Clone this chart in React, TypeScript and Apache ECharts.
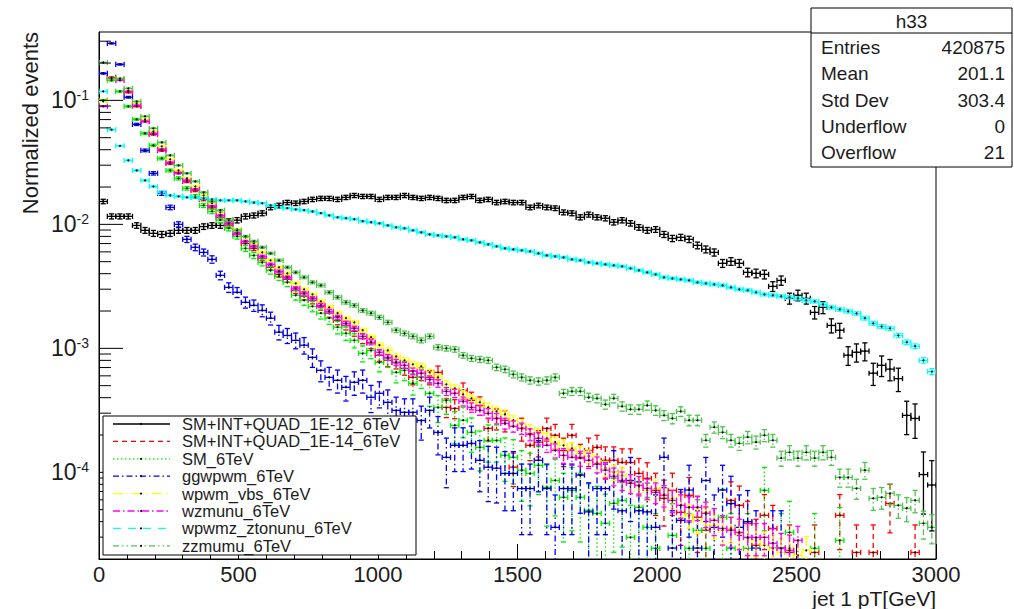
import React, { useEffect, useRef } from 'react';
import * as echarts from 'echarts';

const FONT = "'Liberation Sans', Arial, Helvetica, sans-serif";
const TEXT = '#1c1c1c';

const BIN_WIDTH = 30;
const X_MIN = 0;
const X_MAX = 3000;
const Y_MIN = 2e-5;
const Y_MAX = 0.356;
const X_TICK_INTERVAL = 500;

const SERIES_NAMES = [
  'SM+INT+QUAD_1E-12_6TeV',
  'SM+INT+QUAD_1E-14_6TeV',
  'SM_6TeV',
  'ggwpwm_6TeV',
  'wpwm_vbs_6TeV',
  'wzmunu_6TeV',
  'wpwmz_ztonunu_6TeV',
  'zzmumu_6TeV',
];
const SERIES_COLORS = ['#000000', '#ff0000', '#00ee00', '#0000ff', '#ffff00', '#ff00ff', '#00ffff', '#4fc44f'];
const SERIES_DASH: (number[] | null)[] = [
  null,
  [5, 4],
  [1.5, 2.5],
  [6, 3, 1.5, 3],
  [10, 4, 1.5, 4],
  [7, 3, 1.5, 3],
  [8, 7],
  [6, 3, 1.5, 3, 1.5, 3],
];
// weight of one event in each normalized histogram (for the Poisson error bars)
const EVENT_WEIGHT = [2.6e-5, 1e-5, 2e-5, 2.45e-5, 2e-6, 2.5e-6, 2e-6, 2.5e-6];

const STATS_TITLE = 'h33';
const STATS_LABELS = ['Entries', 'Mean', 'Std Dev', 'Underflow', 'Overflow'];
const STATS_VALUES = ['420875', '201.1', '303.4', '0', '21'];

const X_TITLE = 'jet 1 pT[GeV]';
const Y_TITLE = 'Normalized events';

const SM_INT_QUAD_1E12 = [
  1.53e-2, 1.16e-2, 1.16e-2, 1.16e-2, 9.8e-3, 8.95e-3, 8.46e-3, 8.3e-3, 8.46e-3, 8.95e-3,
  8.95e-3, 8.95e-3, 9.6e-3, 9.8e-3, 9.8e-3, 1.06e-2, 1.08e-2, 1.16e-2, 1.18e-2, 1.23e-2,
  1.37e-2, 1.42e-2, 1.5e-2, 1.48e-2, 1.53e-2, 1.59e-2, 1.62e-2, 1.62e-2, 1.59e-2, 1.65e-2,
  1.71e-2, 1.68e-2, 1.68e-2, 1.59e-2, 1.65e-2, 1.65e-2, 1.71e-2, 1.65e-2, 1.62e-2, 1.65e-2,
  1.62e-2, 1.56e-2, 1.56e-2, 1.65e-2, 1.68e-2, 1.56e-2, 1.59e-2, 1.5e-2, 1.53e-2, 1.5e-2,
  1.5e-2, 1.37e-2, 1.42e-2, 1.37e-2, 1.35e-2, 1.25e-2, 1.23e-2, 1.14e-2, 1.2e-2, 1.14e-2,
  1.12e-2, 1.04e-2, 1.08e-2, 1.02e-2, 9.46e-3, 8.95e-3, 9.1e-3, 8.3e-3, 7.7e-3, 7.86e-3,
  7.57e-3, 6.77e-3, 6.29e-3, 5.94e-3, 4.85e-3, 5.03e-3, 4.85e-3, 4.1e-3, 4.03e-3, 3.95e-3,
  3.16e-3, 3.53e-3, 2.53e-3, 2.68e-3, 2.53e-3, 1.95e-3, 2.14e-3, 1.53e-3, 1.4e-3, 8.8e-4,
  9.3e-4, 9.5e-4, 6.3e-4, 7.3e-4, 6.8e-4, 5.7e-4, 2.88e-4, 2.72e-4, 9.6e-5, 7.9e-5,
];

const SM_INT_QUAD_1E14 = [
  0.1, 0.153, 0.148, 0.116, 0.0895, 0.0677, 0.0532, 0.0395, 0.031, 0.0262,
  0.0222, 0.0188, 0.0159, 0.0137, 0.0114, 9.8e-3, 8.3e-3, 7.03e-3, 6.4e-3, 5.32e-3,
  4.5e-3, 3.95e-3, 3.6e-3, 2.94e-3, 2.63e-3, 2.44e-3, 2.18e-3, 1.92e-3, 1.68e-3, 1.53e-3,
  1.37e-3, 1.2e-3, 1.1e-3, 8.79e-4, 8.0e-4, 7.7e-4, 6.9e-4, 5.84e-4, 6.29e-4, 5.84e-4,
  6.4e-4, 3.34e-4, 3.28e-4, 4.58e-4, 3.81e-4, 3.47e-4, 2.26e-4, 2.72e-4, 2.63e-4, 1.1e-4,
  2.26e-4, 1.65e-4, 1.75e-4, 2.26e-4, 1.99e-4, 1.5e-4, 1.99e-4, 1.32e-4, 1.5e-4, 1.59e-4,
  1.25e-4, 1.25e-4, 1.2e-4, 1.2e-4, 9.8e-5, 8.95e-5, 7.16e-5, 6.17e-5, 7.16e-5, 4.76e-5,
  6.53e-5, 4.34e-5, 3.41e-5, null, null, 5.94e-5, 5.42e-5, 3.88e-5, 2.58e-5, 4.5e-5,
  3.53e-5, null, 2.26e-5, null, null, 2.26e-5, null, null, 4.5e-5, null,
  2.26e-5, null, 2.26e-5, null, 5.62e-5, null, null, 2.26e-5, null, null,
];

const SM_6TEV = [
  0.1, 0.145, 0.118, 0.0895, 0.0703, 0.0542, 0.0434, 0.034, 0.0272, 0.0235,
  0.0195, 0.0168, 0.0142, 0.0127, 0.0108, 9.29e-3, 8.0e-3, 6.4e-3, 5.62e-3, 4.94e-3,
  4.26e-3, 3.81e-3, 3.41e-3, 2.68e-3, 2.44e-3, 2.18e-3, 1.92e-3, 1.75e-3, 1.48e-3, 1.32e-3,
  1.16e-3, 9.12e-4, 9.64e-4, 7.7e-4, 8.3e-4, 6.4e-4, 6.65e-4, 5.22e-4, 5.84e-4, 4.34e-4,
  3.34e-4, 3.81e-4, 2.39e-4, 2.63e-4, 2.1e-4, 1.59e-4, 1.81e-4, 1.81e-4, 1.37e-4, 1.32e-4,
  1.04e-4, 9.8e-5, 1.14e-4, 7.57e-5, 8.6e-5, 6.29e-5, 7.16e-5, 6.29e-5, 4.94e-5, 4.67e-5,
  3.88e-5, 5.62e-5, 5.94e-5, 2.99e-5, 5.22e-5, 3.6e-5, 2.44e-5, null, 3.1e-5, null,
  2.44e-5, 3.41e-5, 2.44e-5, null, 4.34e-5, 2.44e-5, null, 2.44e-5, null, 7.16e-5,
  null, 2.44e-5, 3.28e-5, null, null, 2.44e-5, null, null, 2.83e-5, null,
  null, null, null, null, null, null, null, null, null, null,
];

const GGWPWM = [
  0.165, 0.288, 0.195, 0.106, 0.064, 0.0395, 0.0258, 0.0178, 0.0137, 0.01,
  7.57e-3, 6.53e-3, 5.94e-3, 5.22e-3, 3.88e-3, 3.1e-3, 2.83e-3, 2.35e-3, 2.22e-3, 2.02e-3,
  1.75e-3, 1.35e-3, 1.27e-3, 1.16e-3, 1.06e-3, 8.46e-4, 6.65e-4, 5.83e-4, 5.52e-4, 4.85e-4,
  5.32e-4, 5.52e-4, 4.03e-4, 4.34e-4, 3.67e-4, 3.16e-4, 3.05e-4, 3.05e-4, 2.62e-4, 3.16e-4,
  2.1e-4, 1.32e-4, 1.65e-4, 1.65e-4, 1.71e-4, 1.25e-4, 1.1e-4, 1.08e-4, 9.8e-5, 9.8e-5,
  7.4e-5, 7.4e-5, 1.25e-4, 7.4e-5, 3.6e-5, 7.4e-5, 7.4e-5, 9.5e-5, 4.8e-5, 7.4e-5,
  7.4e-5, 1.0e-4, 4.9e-5, 8.6e-5, 4.9e-5, 4.8e-5, 3.6e-5, 1.32e-4, 2.45e-5, 4.1e-5,
  7.2e-5, 2.45e-5, 8.6e-5, 3.6e-5, 7.2e-5, 5.6e-5, 3.6e-5, 4.0e-5, 2.45e-5, null,
  2.45e-5, 2.45e-5, null, null, null, null, null, null, null, null,
  null, null, null, null, null, null, null, null, null, null,
];

const WPWM_VBS = [
  0.098, 0.148, 0.15, 0.12, 0.0946, 0.0703, 0.0562, 0.0426, 0.0334, 0.0272,
  0.0235, 0.0202, 0.0171, 0.0148, 0.0125, 0.0108, 9.12e-3, 7.86e-3, 7.03e-3, 5.94e-3,
  5.13e-3, 4.5e-3, 4.03e-3, 3.34e-3, 2.99e-3, 2.72e-3, 2.39e-3, 2.14e-3, 1.92e-3, 1.75e-3,
  1.62e-3, 1.4e-3, 1.23e-3, 1.06e-3, 9.64e-4, 8.61e-4, 8.0e-4, 7.43e-4, 7.16e-4, 6.4e-4,
  5.84e-4, 5.13e-4, 4.76e-4, 4.26e-4, 3.95e-4, 3.67e-4, 3.34e-4, 3.1e-4, 2.94e-4, 2.63e-4,
  2.44e-4, 2.22e-4, 2.06e-4, 1.88e-4, 1.75e-4, 1.65e-4, 1.56e-4, 1.45e-4, 1.35e-4, 1.2e-4,
  1.08e-4, 1.0e-4, 9.46e-5, 8.3e-5, 7.7e-5, 7.16e-5, 7.43e-5, 6.65e-5, 6.17e-5, 5.42e-5,
  4.5e-5, 4.1e-5, 4.76e-5, 3.74e-5, 3.41e-5, 3.53e-5, 3.22e-5, 2.94e-5, 2.83e-5, 2.58e-5,
  2.44e-5, 2.26e-5, 2.44e-5, 2.14e-5, 2.35e-5, null, null, null, null, null,
  null, null, null, null, null, null, null, null, null, null,
];

const WZMUNU = [
  0.0895, 0.15, 0.145, 0.118, 0.0912, 0.0677, 0.0542, 0.0403, 0.0316, 0.0258,
  0.0226, 0.0192, 0.0162, 0.014, 0.0118, 0.0102, 8.46e-3, 7.3e-3, 6.65e-3, 5.52e-3,
  4.76e-3, 4.18e-3, 3.74e-3, 3.05e-3, 2.78e-3, 2.53e-3, 2.22e-3, 1.99e-3, 1.78e-3, 1.59e-3,
  1.45e-3, 1.25e-3, 1.12e-3, 9.3e-4, 8.46e-4, 7.7e-4, 7.3e-4, 6.53e-4, 6.29e-4, 5.62e-4,
  5.22e-4, 4.5e-4, 4.34e-4, 3.74e-4, 3.34e-4, 3.16e-4, 2.99e-4, 2.72e-4, 2.48e-4, 2.35e-4,
  2.26e-4, 2.02e-4, 1.88e-4, 1.65e-4, 1.5e-4, 1.37e-4, 1.32e-4, 1.3e-4, 1.25e-4, 1.16e-4,
  1.04e-4, 9.3e-5, 8.6e-5, 8.15e-5, 7.86e-5, 7.43e-5, 6.9e-5, 6.53e-5, 5.94e-5, 5.42e-5,
  5.22e-5, 5.22e-5, 4.67e-5, 4.1e-5, 3.53e-5, 3.41e-5, 3.28e-5, 2.99e-5, 2.99e-5, 2.99e-5,
  2.68e-5, 2.44e-5, 2.35e-5, 2.83e-5, null, null, null, null, null, null,
  null, null, null, null, null, null, null, null, null, null,
];

const WPWMZ_ZTONUNU = [
  0.118, 5.8e-2, 4.3e-2, 3.28e-2, 2.72e-2, 2.26e-2, 2.02e-2, 1.81e-2, 1.71e-2, 1.68e-2,
  1.65e-2, 1.65e-2, 1.62e-2, 1.59e-2, 1.56e-2, 1.56e-2, 1.56e-2, 1.53e-2, 1.5e-2, 1.48e-2,
  1.42e-2, 1.37e-2, 1.35e-2, 1.32e-2, 1.3e-2, 1.27e-2, 1.23e-2, 1.18e-2, 1.14e-2, 1.12e-2,
  1.1e-2, 1.06e-2, 1.04e-2, 1.02e-2, 9.8e-3, 9.46e-3, 9.29e-3, 8.95e-3, 8.61e-3, 8.3e-3,
  8.15e-3, 8.0e-3, 7.86e-3, 7.57e-3, 7.43e-3, 7.16e-3, 6.9e-3, 6.65e-3, 6.4e-3, 6.29e-3,
  6.17e-3, 6.06e-3, 5.84e-3, 5.62e-3, 5.52e-3, 5.42e-3, 5.22e-3, 5.13e-3, 4.94e-3, 4.85e-3,
  4.76e-3, 4.67e-3, 4.58e-3, 4.42e-3, 4.26e-3, 4.1e-3, 3.95e-3, 3.74e-3, 3.67e-3, 3.6e-3,
  3.53e-3, 3.41e-3, 3.34e-3, 3.28e-3, 3.22e-3, 3.1e-3, 2.99e-3, 2.94e-3, 2.83e-3, 2.72e-3,
  2.68e-3, 2.63e-3, 2.58e-3, 2.53e-3, 2.44e-3, 2.39e-3, 2.26e-3, 2.14e-3, 2.06e-3, 1.99e-3,
  1.91e-3, 1.75e-3, 1.59e-3, 1.5e-3, 1.45e-3, 1.27e-3, 1.12e-3, 1.04e-3, 8.0e-4, 6.5e-4,
];

const ZZMUMU = [
  0.202, 0.15, 0.15, 0.125, 0.098, 0.0743, 0.0595, 0.0458, 0.036, 0.0299,
  0.0258, 0.0222, 0.0181, 0.0153, 0.013, 0.0108, 8.95e-3, 8.0e-3, 7.3e-3, 6.53e-3,
  5.84e-3, 5.13e-3, 4.5e-3, 4.1e-3, 3.74e-3, 3.41e-3, 3.22e-3, 2.83e-3, 2.58e-3, 2.35e-3,
  2.22e-3, 2.02e-3, 1.92e-3, 1.78e-3, 1.62e-3, 1.4e-3, 1.32e-3, 1.25e-3, 1.16e-3, 1.25e-3,
  1.02e-3, 1.0e-3, 9.8e-4, 8.79e-4, 8.3e-4, 8.15e-4, 8.0e-4, 7.03e-4, 6.77e-4, 6.17e-4,
  5.84e-4, 5.52e-4, 5.42e-4, 5.52e-4, 5.84e-4, 4.34e-4, 4.5e-4, 4.5e-4, 4.03e-4, 3.95e-4,
  3.53e-4, 3.95e-4, 3.41e-4, 3.22e-4, 3.22e-4, 3.47e-4, 3.16e-4, 2.88e-4, 2.72e-4, 3.1e-4,
  2.63e-4, 2.63e-4, 1.81e-4, 2.31e-4, 2.1e-4, 1.81e-4, 1.71e-4, 1.92e-4, 1.75e-4, 1.99e-4,
  1.81e-4, 1.3e-4, 1.45e-4, 1.3e-4, 1.45e-4, 1.3e-4, 1.45e-4, 1.32e-4, 9.1e-5, 9.1e-5,
  7.43e-5, 1.04e-4, 6.17e-5, 6.29e-5, 6.77e-5, 5.42e-5, 5.13e-5, 5.94e-5, 3.88e-5, 3.6e-5,
];

const SERIES_VALUES = [
  SM_INT_QUAD_1E12,
  SM_INT_QUAD_1E14,
  SM_6TEV,
  GGWPWM,
  WPWM_VBS,
  WZMUNU,
  WPWMZ_ZTONUNU,
  ZZMUMU,
];

// layout
const GRID = { left: 99, top: 32, width: 837, height: 527 };
const LEGEND_BOX = { x: 103, y: 416, w: 313, h: 139 };
const STATS_BOX = { x: 811, y: 8, w: 201, h: 159, header: 25 };

function buildHistData(values: (number | null)[], weight: number) {
  const out: number[][] = [];
  values.forEach((v, i) => {
    if (v == null || v <= 0) return;
    out.push([BIN_WIDTH / 2 + i * BIN_WIDTH, v, Math.sqrt(v * weight)]);
  });
  return out;
}

function makeRenderItem(color: string, dash: number[] | null) {
  return (params: any, api: any) => {
    const x = api.value(0);
    const v = api.value(1);
    const err = api.value(2);
    const cs = params.coordSys;
    const bottom = cs.y + cs.height;
    const top = cs.y;
    const c = api.coord([x, v]);
    const l = api.coord([x - BIN_WIDTH / 2, v]);
    const r = api.coord([x + BIN_WIDTH / 2, v]);
    let yHi = api.coord([x, Math.min(v + err, Y_MAX)])[1];
    yHi = Math.max(yHi, top);
    const lo = v - err;
    const hasLo = lo > Y_MIN;
    const yLo = hasLo ? api.coord([x, lo])[1] : bottom;
    const style: any = { stroke: color, lineWidth: 1.3, fill: null };
    if (dash) style.lineDash = dash;
    const solid = { stroke: color, lineWidth: 1.3, fill: null };
    const cap = 2.6;
    const children: any[] = [
      { type: 'line', shape: { x1: l[0], y1: c[1], x2: r[0], y2: c[1] }, style: solid },
      { type: 'line', shape: { x1: c[0], y1: yHi, x2: c[0], y2: yLo }, style },
      { type: 'line', shape: { x1: c[0] - cap, y1: yHi, x2: c[0] + cap, y2: yHi }, style: solid },
      { type: 'line', shape: { x1: l[0], y1: c[1] - cap, x2: l[0], y2: c[1] + cap }, style: solid },
      { type: 'line', shape: { x1: r[0], y1: c[1] - cap, x2: r[0], y2: c[1] + cap }, style: solid },
    ];
    if (hasLo) {
      children.push({ type: 'line', shape: { x1: c[0] - cap, y1: yLo, x2: c[0] + cap, y2: yLo }, style: solid });
    }
    children.push({ type: 'circle', shape: { cx: c[0], cy: c[1], r: 1 }, style: { fill: '#000' } });
    return { type: 'group', children };
  };
}

function yTickValues() {
  const out: number[] = [];
  for (let e = -5; e <= 0; e++) {
    for (let m = 1; m <= 9; m++) {
      const v = m * Math.pow(10, e);
      if (v > Y_MIN * 1.001 && v < Y_MAX) out.push(v);
    }
  }
  return out;
}

function buildOption() {
  const series: any[] = SERIES_VALUES.map((vals, i) => ({
    type: 'custom',
    name: SERIES_NAMES[i],
    data: buildHistData(vals, EVENT_WEIGHT[i]),
    encode: { x: 0, y: 1 },
    renderItem: makeRenderItem(SERIES_COLORS[i], SERIES_DASH[i]),
    clip: true,
    silent: true,
    z: 2 + i,
  }));

  series.push({
    type: 'custom',
    name: 'yticks',
    data: yTickValues().map((v) => [X_MIN, v]),
    encode: { x: 0, y: 1 },
    clip: false,
    silent: true,
    z: 20,
    renderItem: (params: any, api: any) => {
      const v = api.value(1);
      const p = api.coord([X_MIN, v]);
      const e = Math.log10(v);
      const major = Math.abs(e - Math.round(e)) < 1e-6;
      const len = major ? 24 : 12;
      return {
        type: 'line',
        shape: { x1: p[0], y1: p[1], x2: p[0] + len, y2: p[1] },
        style: { stroke: '#000', lineWidth: 1 },
      };
    },
  });

  const graphics: any[] = [];
  // legend
  graphics.push({
    type: 'rect',
    shape: { x: LEGEND_BOX.x, y: LEGEND_BOX.y, width: LEGEND_BOX.w, height: LEGEND_BOX.h },
    style: { fill: '#fff', stroke: '#000', lineWidth: 1 },
    z: 100,
  });
  SERIES_NAMES.forEach((name, i) => {
    const y = LEGEND_BOX.y + 8 + i * 17.4;
    const st: any = { stroke: SERIES_COLORS[i], lineWidth: 1.3 };
    if (SERIES_DASH[i]) st.lineDash = SERIES_DASH[i];
    graphics.push({
      type: 'line',
      shape: { x1: LEGEND_BOX.x + 10, y1: y, x2: LEGEND_BOX.x + 67, y2: y },
      style: st,
      z: 101,
    });
    if (i !== 1) {
      graphics.push({
        type: 'circle',
        shape: { cx: LEGEND_BOX.x + 38, cy: y, r: 1 },
        style: { fill: '#000' },
        z: 102,
      });
    }
    graphics.push({
      type: 'text',
      x: LEGEND_BOX.x + 79,
      y,
      style: { text: name, font: `16.5px ${FONT}`, fill: TEXT, textAlign: 'left', textVerticalAlign: 'middle' },
      z: 101,
    });
  });

  // stats box
  graphics.push({
    type: 'rect',
    shape: { x: STATS_BOX.x, y: STATS_BOX.y, width: STATS_BOX.w, height: STATS_BOX.h },
    style: { fill: '#fff', stroke: '#000', lineWidth: 1 },
    z: 100,
  });
  graphics.push({
    type: 'line',
    shape: {
      x1: STATS_BOX.x,
      y1: STATS_BOX.y + STATS_BOX.header,
      x2: STATS_BOX.x + STATS_BOX.w,
      y2: STATS_BOX.y + STATS_BOX.header,
    },
    style: { stroke: '#000', lineWidth: 1 },
    z: 101,
  });
  graphics.push({
    type: 'text',
    x: STATS_BOX.x + STATS_BOX.w / 2,
    y: STATS_BOX.y + STATS_BOX.header / 2 + 0.5,
    style: { text: STATS_TITLE, font: `19px ${FONT}`, fill: TEXT, textAlign: 'center', textVerticalAlign: 'middle' },
    z: 101,
  });
  STATS_LABELS.forEach((lab, i) => {
    const y = STATS_BOX.y + STATS_BOX.header + 14.5 + i * 26.3;
    graphics.push({
      type: 'text',
      x: STATS_BOX.x + 10,
      y,
      style: { text: lab, font: `19px ${FONT}`, fill: TEXT, textAlign: 'left', textVerticalAlign: 'middle' },
      z: 101,
    });
    graphics.push({
      type: 'text',
      x: STATS_BOX.x + STATS_BOX.w - 7,
      y,
      style: { text: STATS_VALUES[i], font: `19px ${FONT}`, fill: TEXT, textAlign: 'right', textVerticalAlign: 'middle' },
      z: 101,
    });
  });

  // axis titles
  graphics.push({
    type: 'text',
    x: GRID.left + GRID.width,
    y: 598,
    style: { text: X_TITLE, font: `21px ${FONT}`, fill: TEXT, textAlign: 'right', textVerticalAlign: 'middle' },
    z: 50,
  });
  graphics.push({
    type: 'text',
    x: 30,
    y: GRID.top,
    rotation: Math.PI / 2,
    style: { text: Y_TITLE, font: `22px ${FONT}`, fill: TEXT, textAlign: 'right', textVerticalAlign: 'middle' },
    z: 50,
  });

  return {
    animation: false,
    backgroundColor: '#fff',
    grid: {
      left: GRID.left,
      top: GRID.top,
      width: GRID.width,
      height: GRID.height,
      show: true,
      borderColor: '#000',
      borderWidth: 1,
      backgroundColor: 'transparent',
    },
    xAxis: {
      type: 'value',
      min: X_MIN,
      max: X_MAX,
      interval: X_TICK_INTERVAL,
      axisLine: { show: true, onZero: false, lineStyle: { color: '#000', width: 1 } },
      axisTick: { show: true, inside: true, length: 15, lineStyle: { color: '#000', width: 1 } },
      minorTick: { show: true, splitNumber: 5, length: 8, lineStyle: { color: '#000', width: 1 } },
      splitLine: { show: false },
      minorSplitLine: { show: false },
      axisLabel: {
        show: true,
        margin: 4,
        color: TEXT,
        fontFamily: FONT,
        fontSize: 22,
        formatter: (v: number) => String(v),
      },
    },
    yAxis: {
      type: 'log',
      logBase: 10,
      min: Y_MIN,
      max: Y_MAX,
      axisLine: { show: true, lineStyle: { color: '#000', width: 1 } },
      axisTick: { show: false },
      splitLine: { show: false },
      axisLabel: {
        show: true,
        margin: 10,
        color: TEXT,
        formatter: (v: number) => {
          const e = Math.log10(v);
          const r = Math.round(e);
          if (Math.abs(e - r) > 1e-4) return '';
          return `{b|10}{s|${r}}`;
        },
        rich: {
          b: { fontSize: 23, lineHeight: 24, fontFamily: FONT, color: TEXT },
          s: { fontSize: 14, lineHeight: 14, fontFamily: FONT, color: TEXT, verticalAlign: 'top' },
        },
      },
    },
    series,
    graphic: { elements: graphics },
  };
}

export default function App() {
  const ref = useRef<HTMLDivElement>(null);
  useEffect(() => {
    if (!ref.current) return;
    const chart = echarts.init(ref.current, undefined, { renderer: 'svg' });
    chart.setOption(buildOption() as any);
    return () => {
      chart.dispose();
    };
  }, []);
  return (
    <div
      ref={ref}
      style={{ position: 'absolute', left: 0, top: 0, width: 1014, height: 609, background: '#fff' }}
    />
  );
}
